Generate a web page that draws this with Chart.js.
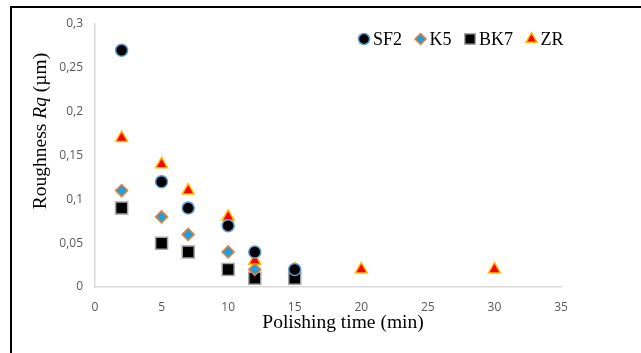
<!DOCTYPE html>
<html>
<head>
<meta charset="utf-8">
<script src="https://cdn.jsdelivr.net/npm/chart.js@4"></script>
<style>
  html, body { margin: 0; padding: 0; background: #fff; }
  #wrap { position: relative; width: 641px; height: 353px; }
  #frame { position: absolute; left: 10px; top: 6px; right: 0; bottom: 0;
           border-top: 2px solid #000; border-left: 2px solid #000; pointer-events: none; }
  canvas { position: absolute; left: 0; top: 0; }
</style>
</head>
<body>
<div id="wrap">
  <canvas id="chart" width="641" height="353"></canvas>
  <div id="frame"></div>
</div>
<script>
// polishing time (min) and roughness Rq (µm)
const timeSF2 = [2, 5, 7, 10, 12, 15];
const rqSF2 = [0.27, 0.12, 0.09, 0.07, 0.04, 0.02];
const timeK5 = [2, 5, 7, 10, 12];
const rqK5 = [0.11, 0.08, 0.06, 0.04, 0.02];
const timeBK7 = [2, 5, 7, 10, 12, 15];
const rqBK7 = [0.09, 0.05, 0.04, 0.02, 0.01, 0.01];
const timeZR = [2, 5, 7, 10, 12, 15, 20, 30];
const rqZR = [0.17, 0.14, 0.11, 0.08, 0.03, 0.02, 0.02, 0.02];

const toPoints = (xs, ys) => xs.map((x, i) => ({ x: x, y: ys[i] }));

const serif = "'Liberation Serif', 'DejaVu Serif', serif";

// legend drawn inside the plot area, top right
const innerLegend = {
  id: "innerLegend",
  afterDatasetsDraw(chart) {
    const ctx = chart.ctx;
    const area = chart.chartArea;
    let x = area.left + 269;
    const y = area.top + 15;
    ctx.save();
    ctx.font = "18px " + serif;
    ctx.textBaseline = "middle";
    chart.data.datasets.forEach((ds) => {
      ctx.fillStyle = ds.backgroundColor;
      ctx.strokeStyle = ds.borderColor;
      ctx.lineWidth = ds.borderWidth;
      Chart.helpers.drawPoint(ctx, {
        pointStyle: ds.pointStyle,
        radius: ds.legendRadius,
        rotation: 0,
        borderWidth: ds.borderWidth,
      }, x, y);
      ctx.fillStyle = "#000";
      ctx.fillText(ds.label, x + 9, y + 1);
      x += 9 + ctx.measureText(ds.label).width + 18.5;
    });
    ctx.restore();
  },
};

// axis titles with italic "Rq"
const axisTitles = {
  id: "axisTitles",
  afterDraw(chart) {
    const ctx = chart.ctx;
    ctx.save();
    ctx.fillStyle = "#000";
    ctx.textBaseline = "alphabetic";
    ctx.font = "19.5px " + serif;
    ctx.textAlign = "center";
    ctx.fillText("Polishing time (min)", 343, 328);

    const parts = [
      { t: "Roughness ", f: "19.5px " + serif },
      { t: "Rq", f: "italic 19.5px " + serif },
      { t: " (µm)", f: "19.5px " + serif },
    ];
    let total = 0;
    parts.forEach((p) => { ctx.font = p.f; p.w = ctx.measureText(p.t).width; total += p.w; });
    ctx.translate(46, 131);
    ctx.rotate(-Math.PI / 2);
    ctx.textAlign = "left";
    let px = -total / 2;
    parts.forEach((p) => { ctx.font = p.f; ctx.fillText(p.t, px, 0); px += p.w; });
    ctx.restore();
  },
};

new Chart(document.getElementById("chart"), {
  type: "scatter",
  data: {
    datasets: [
      {
        label: "SF2",
        data: toPoints(timeSF2, rqSF2),
        pointStyle: "circle",
        pointRadius: 6,
        legendRadius: 5.5,
        backgroundColor: "#000000",
        borderColor: "#5B9BD5",
        borderWidth: 1.5,
      },
      {
        label: "K5",
        data: toPoints(timeK5, rqK5),
        pointStyle: "rectRot",
        pointRadius: 6,
        legendRadius: 5.5,
        backgroundColor: "#1EA0E0",
        borderColor: "#ED7D31",
        borderWidth: 1.5,
      },
      {
        label: "BK7",
        data: toPoints(timeBK7, rqBK7),
        pointStyle: "rect",
        pointRadius: 8.5,
        legendRadius: 7.5,
        backgroundColor: "#000000",
        borderColor: "#A5A5A5",
        borderWidth: 1.5,
      },
      {
        label: "ZR",
        data: toPoints(timeZR, rqZR),
        pointStyle: "triangle",
        pointRadius: 7,
        legendRadius: 6.3,
        backgroundColor: "#FF0000",
        borderColor: "#FFC000",
        borderWidth: 1.5,
      },
    ],
  },
  options: {
    responsive: false,
    animation: false,
    events: [],
    layout: { padding: { top: 24, right: 80, left: 0, bottom: 0 } },
    plugins: {
      legend: { display: false },
      tooltip: { enabled: false },
    },
    scales: {
      x: {
        type: "linear",
        min: 0,
        max: 35,
        ticks: {
          stepSize: 5,
          color: "#595959",
          font: { family: "'Open Sans'", size: 12 },
          padding: 13,
        },
        grid: { display: false, drawTicks: false },
        border: { color: "#D9D9D9", width: 1.5 },
        afterFit(scale) { scale.height = 66; },
      },
      y: {
        min: 0,
        max: 0.3,
        ticks: {
          stepSize: 0.05,
          color: "#595959",
          font: { family: "'Open Sans'", size: 12 },
          padding: 12,
          callback: (v) => (Math.round(v * 100) / 100).toString().replace(".", ","),
        },
        grid: { display: false, drawTicks: false },
        border: { color: "#D9D9D9", width: 1.5 },
        afterFit(scale) { scale.width = 95; },
      },
    },
  },
  plugins: [innerLegend, axisTitles],
});
</script>
</body>
</html>
